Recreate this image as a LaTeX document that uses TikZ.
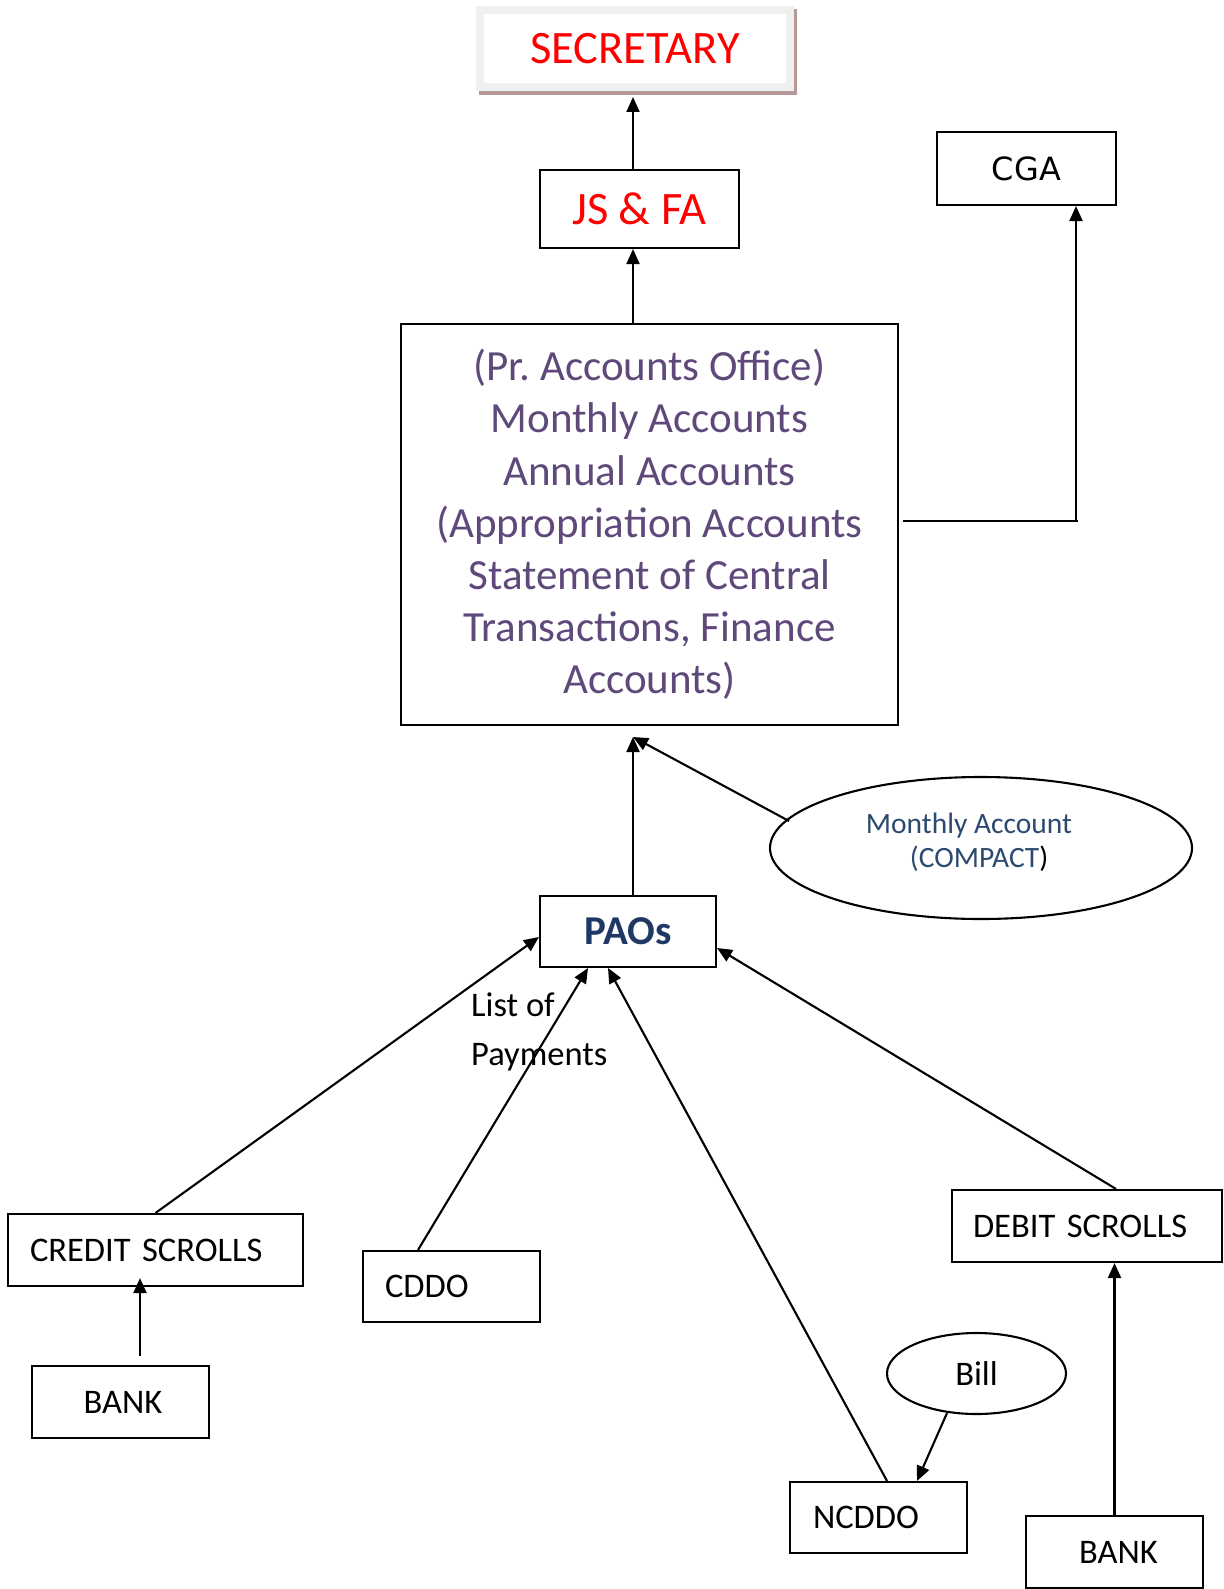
\documentclass[tikz,border=0pt]{standalone}
\usepackage{fontspec}
\setmainfont{Carlito}
\newfontfamily\dejavu{DejaVu Sans}
\usetikzlibrary{arrows.meta,shapes.geometric}
\definecolor{secred}{HTML}{FF0000}
\definecolor{purp}{HTML}{5F497A}
\definecolor{navy}{HTML}{1F3864}
\definecolor{navytwo}{HTML}{2C4A70}
\definecolor{framegray}{HTML}{EFEFEF}
\definecolor{shadowc}{HTML}{B59999}
\frenchspacing
\begin{document}
\begin{tikzpicture}[x=1pt,y=-1pt,
  box/.style={draw=black, line width=2.1pt, rectangle, inner sep=0pt},
  lbox/.style={box, align=left, text width=#1},
  ln/.style={line width=2.1pt},
  arr/.style={line width=2.1pt, -{Triangle[length=15pt,width=13pt]}},
  fbig/.style={font=\fontsize{46.5}{56}\selectfont},
  fmid/.style={font=\fontsize{34.5}{41}\selectfont},
  fell/.style={font=\fontsize{29.5}{34}\selectfont}
]
\useasboundingbox (0,0) rectangle (1223,1589);
\fill[white] (0,0) rectangle (1223,1589);

% SECRETARY with frame and shadow
\fill[shadowc] (479,9) rectangle (797,95);
\node[draw=framegray, fill=white, line width=8pt, minimum width=310pt, minimum height=77pt, inner sep=0pt, fbig, text=secred] (sec) at (635,48.5) {\raisebox{-5pt}{SECRETARY}};

\node[box, minimum width=199pt, minimum height=78pt, fbig, text=secred] (js) at (639.5,209) {JS \& FA};
\node[box, minimum width=179pt, minimum height=73pt, font=\dejavu\fontsize{32}{38}\selectfont] (cga) at (1026.5,168.5) {CGA};

\node[box, minimum width=497pt, minimum height=401pt, align=center, text=purp, font=\fontsize{43}{52.2}\selectfont] (big) at (649.5,524.5)
  {(Pr. Accounts Office)\\Monthly Accounts\\Annual Accounts\\(Appropriation Accounts\\Statement of Central\\Transactions, Finance\\Accounts)};

\node[ellipse, draw, ln, minimum width=422pt, minimum height=142pt, inner sep=0pt] (ell) at (981,848) {};
\node[fell, text=navytwo, align=left, inner sep=0pt] (ellt) at (969,842) {Monthly Account\\\hspace*{44pt}(COMPACT\textcolor{black}{)}};

\node[box, minimum width=176pt, minimum height=71pt, text=navy, font=\fontsize{41}{48}\selectfont\bfseries] (pao) at (628,931.5) {PAOs};

\node[fmid, anchor=base west, inner sep=0pt] (lop1) at (471,1016) {List of};
\node[fmid, anchor=base west, inner sep=0pt] (lop2) at (471,1065) {Payments};

\node[lbox=251pt, inner xsep=22pt, minimum height=72pt, fmid] (credit) at (155.5,1250) {CREDIT SCROLLS};
\node[box, minimum width=177pt, minimum height=72pt, fmid] (bankl) at (120.5,1402) {\hspace*{5pt}BANK};
\node[lbox=133pt, inner xsep=22pt, minimum height=71pt, fmid] (cddo) at (451.5,1286.5) {CDDO};
\node[lbox=228pt, inner xsep=21pt, minimum height=72pt, fmid] (debit) at (1087,1226) {DEBIT SCROLLS};
\node[lbox=131pt, inner xsep=23pt, minimum height=71pt, fmid] (ncddo) at (878.5,1517.5) {NCDDO};
\node[box, minimum width=177pt, minimum height=72pt, fmid] (bankr) at (1114.5,1552) {\hspace*{8pt}BANK};
\node[ellipse, draw, ln, minimum width=179pt, minimum height=81pt, inner sep=0pt, fmid] (bill) at (976.5,1373.5) {Bill};

\coordinate (m) at (633,737);

% connectors
\draw[arr] ([xshift=-6.5pt]js.north) -- ([xshift=-6.5pt,yshift=-6pt]js.north |- sec.south);
\draw[arr] ([xshift=-16.5pt]big.north) -- ([xshift=-16.5pt]big.north |- js.south);
\draw[ln] ([xshift=4pt,yshift=3.5pt]big.east) -- ([xshift=51.5pt,yshift=3.5pt]big.east -| cga.south);
\draw[arr] ([xshift=49.5pt,yshift=3.5pt]big.east -| cga.south) -- ([xshift=49.5pt]cga.south);
\draw[arr] ([xshift=5pt]pao.north) -- (m);
\draw[arr] ([xshift=-192pt,yshift=27pt]ell.center) -- (m);
\draw[arr] (credit.north) -- ([yshift=-5.5pt]pao.west);
\draw[arr] ([xshift=-33.5pt]cddo.north) -- ([xshift=-40pt]pao.south);
\draw[arr] ([xshift=8.5pt]ncddo.north) -- ([xshift=-20pt]pao.south);
\draw[arr] ([xshift=29pt]debit.north) -- ([yshift=-16.5pt]pao.east);
\draw[arr] ([xshift=19.5pt,yshift=9pt]bankl.north) -- ([xshift=19.5pt,yshift=9pt]bankl.north |- credit.south);
\draw[arr] (bankr.north) -- (bankr.north |- debit.south);
\draw[arr] ([xshift=-29.5pt,yshift=2pt]bill.south) -- ([xshift=38.5pt]ncddo.north);
\end{tikzpicture}
\end{document}
